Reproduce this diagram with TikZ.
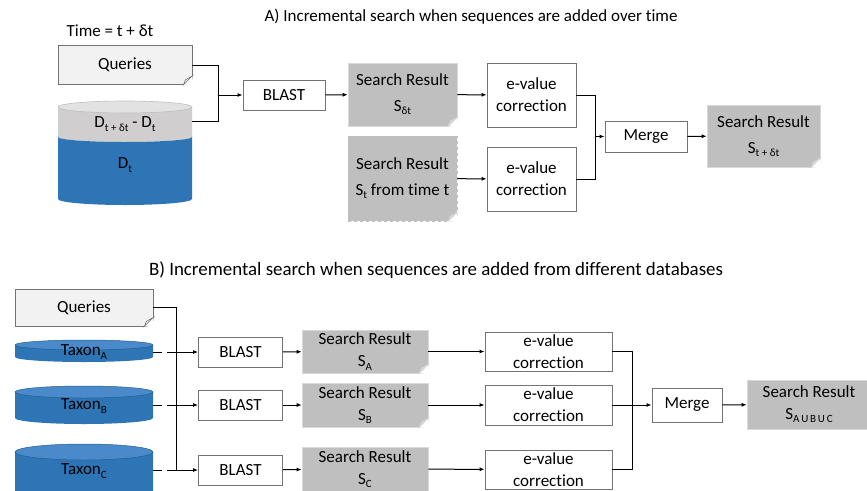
\documentclass[tikz,border=0pt]{standalone}
\usepackage{fontspec}
\setmainfont{Carlito}[Ligatures=NoCommon]
\usetikzlibrary{arrows.meta,positioning}

\definecolor{qfill}{HTML}{F2F2F2}
\definecolor{resfill}{HTML}{BFBFBF}
\definecolor{foldgray}{HTML}{D6D6D6}
\definecolor{dbblue}{HTML}{2E75B6}
\definecolor{dbbluetop}{HTML}{4A8ACB}
\definecolor{dbgray}{HTML}{D0CECE}
\definecolor{dbgraytop}{HTML}{E2E2E2}

\newcommand{\lowsub}[1]{\raisebox{-0.4ex}{\fontsize{11}{11}\selectfont #1}}
% folded corner on a document node
\newcommand{\foldcorner}[3]{%
  \fill[white] ([xshift=-9pt]#1.south east) -- ([yshift=-1pt,xshift=1pt]#1.south east) -- ([yshift=9pt]#1.south east) -- cycle;
  \filldraw[fill=#2,draw=#3,line width=0.6pt] ([xshift=-9pt]#1.south east) -- ([yshift=9pt]#1.south east) -- ([xshift=-7pt,yshift=5pt]#1.south east) -- cycle;}

\begin{document}
\begin{tikzpicture}[x=1pt,y=-1pt,
  font=\fontsize{17}{22}\selectfont,
  box/.style={draw=black!55,fill=white,line width=0.8pt,align=center,inner sep=0pt},
  query/.style={draw=black!55,fill=qfill,line width=0.8pt,inner sep=0pt},
  result/.style={draw=black!15,fill=resfill,line width=0.6pt,align=center,inner sep=0pt},
  wide/.style={font=\fontsize{17}{26}\selectfont},
  link/.style={line width=1pt},
  arr/.style={link,-{Latex[length=5pt,width=4pt]}}]
\useasboundingbox (0,0) rectangle (867,490);
\fill[white] (0,0) rectangle (867,490);
\clip (0,0) rectangle (867,490);

% A) over time
\node (titleA) at (471,17) {A) Incremental search when sequences are added over time};
\node (time) at (110,31) {Time = t + δt};
\node[query,minimum width=134,minimum height=39] (qA) at (125,65) {Queries};
\foldcorner{qA}{qfill}{black!55}

% database D_t plus new part
\fill[dbgray] (58,107) -- (58,137) arc[start angle=180,end angle=360,x radius=67pt,y radius=5pt] -- (192,107) -- cycle;
\fill[dbblue] (58,137) -- (58,199) arc[start angle=180,end angle=360,x radius=67pt,y radius=6pt] -- (192,137) arc[start angle=0,end angle=-180,x radius=67pt,y radius=5pt] -- cycle;
\filldraw[fill=dbgraytop,draw=black!25,line width=0.6pt] (125,107) ellipse [x radius=67pt,y radius=6pt];
\node (dnew) at (125,124) {D\lowsub{t + δt} - D\lowsub{t}};
\node (dold) at (125,165) {D\lowsub{t}};
\coordinate (dbout) at (192,121);

\node[box,minimum width=82,minimum height=30] (blastA) at (284,95) {BLAST};
\node[result,wide,minimum width=109,minimum height=63] (sdt) at (402.5,94.5) {Search Result\\S\lowsub{δt}};
\foldcorner{sdt}{foldgray}{black!15}
\node[result,wide,dashed,draw=black!25,minimum width=109,minimum height=85] (sold) at (402.5,178.5) {Search Result\\S\lowsub{t} from time t};
\foldcorner{sold}{foldgray}{black!15}
\node[box,minimum width=89,minimum height=64] (ev1) at (531.5,95) {e-value\\correction};
\node[box,minimum width=89,minimum height=64] (ev2) at (531.5,179) {e-value\\correction};
\node[box,minimum width=82,minimum height=31] (mergeA) at (646,136.5) {Merge};
\node[result,wide,minimum width=113,minimum height=62] (sfinA) at (763.5,136) {Search Result\\S\lowsub{t + δt}};
\foldcorner{sfinA}{foldgray}{black!15}

\coordinate (jA) at (218,95);
\coordinate (jM) at (595,136.5);
\draw[link] (qA.east) -| (jA);
\draw[link] (dbout) -| (jA);
\draw[arr] (jA) -- (blastA);
\draw[arr] (blastA) -- (sdt);
\draw[arr] (sdt) -- (ev1);
\draw[arr] (sold) -- (ev2);
\draw[link] (ev1.east) -| (jM);
\draw[link] (ev2.east) -| (jM);
\draw[arr] (jM) -- (mergeA);
\draw[arr] (mergeA) -- (sfinA);

% B) from different databases
\node[font=\fontsize{18.9}{22}\selectfont] (titleB) at (436,270) {B) Incremental search when sequences are added from different databases};
\node[query,minimum width=138,minimum height=37] (qB) at (84,307.5) {Queries};
\foldcorner{qB}{qfill}{black!55}

% taxon databases
\fill[dbblue] (15,345) -- (15,357) arc[start angle=180,end angle=360,x radius=69pt,y radius=5pt] -- (153,345) -- cycle;
\filldraw[fill=dbbluetop,draw=dbblue!80!black,line width=0.5pt] (84,345) ellipse [x radius=69pt,y radius=5pt];
\fill[dbblue] (15,392) -- (15,418) arc[start angle=180,end angle=360,x radius=69pt,y radius=6pt] -- (153,392) -- cycle;
\filldraw[fill=dbbluetop,draw=dbblue!80!black,line width=0.5pt] (84,392) ellipse [x radius=69pt,y radius=6pt];
\fill[dbblue] (15,452) -- (15,500) arc[start angle=180,end angle=360,x radius=69pt,y radius=8pt] -- (153,452) -- cycle;
\filldraw[fill=dbbluetop,draw=dbblue!80!black,line width=0.5pt] (84,452) ellipse [x radius=69pt,y radius=8pt];
\node (taxA) at (84,352) {Taxon\lowsub{A}};
\node (taxB) at (84,406) {Taxon\lowsub{B}};
\node (taxC) at (84,471) {Taxon\lowsub{C}};
\coordinate (tA) at (153,352);
\coordinate (tB) at (153,405);
\coordinate (tC) at (153,470);

\node[box,minimum width=84,minimum height=30] (blastB1) at (240.5,352) {BLAST};
\node[box,minimum width=84,minimum height=30] (blastB2) at (240.5,405) {BLAST};
\node[box,minimum width=84,minimum height=30] (blastB3) at (240.5,470) {BLAST};
\node[result,minimum width=126,minimum height=43] (sA) at (365,351.5) {Search Result\\S\lowsub{A}};
\foldcorner{sA}{foldgray}{black!15}
\node[result,minimum width=126,minimum height=44] (sB) at (365,405) {Search Result\\S\lowsub{B}};
\foldcorner{sB}{foldgray}{black!15}
\node[result,minimum width=126,minimum height=44] (sC) at (365,469) {Search Result\\S\lowsub{C}};
\node[box,minimum width=127,minimum height=39] (evA) at (548.5,351.5) {e-value\\correction};
\node[box,minimum width=127,minimum height=40] (evB) at (548.5,405) {e-value\\correction};
\node[box,minimum width=127,minimum height=39] (evC) at (548.5,469.5) {e-value\\correction};
\node[box,minimum width=70,minimum height=34] (mergeB) at (687,405) {Merge};
\node[result,minimum width=124,minimum height=49] (sfinB) at (809,404.5) {Search Result\\S\lowsub{A\,U\,B\,U\,C}};

\coordinate (jB1) at (176,352);
\coordinate (jB2) at (176,405);
\coordinate (jB3) at (176,470);
\coordinate (jMB) at (632,405);
\draw[link] (qB.east) -| (jB3);
\draw[link,dash pattern=on 9pt off 5pt] (tA) -- (jB1);
\draw[link,dash pattern=on 9pt off 5pt] (tB) -- (jB2);
\draw[link,dash pattern=on 9pt off 5pt] (tC) -- (jB3);
\draw[arr] (jB1) -- (blastB1);
\draw[arr] (jB2) -- (blastB2);
\draw[arr] (jB3) -- (blastB3);
\draw[arr] (blastB1) -- (sA);
\draw[arr] (blastB2) -- (sB);
\draw[arr] (blastB3) -- (sC);
\draw[arr] (sA) -- (evA);
\draw[arr] (sB) -- (evB);
\draw[arr] (sC) -- (evC);
\draw[link] (evA.east) -| (jMB);
\draw[link] (evC.east) -| (jMB);
\draw[arr] (evB) -- (mergeB);
\draw[arr] (mergeB) -- (sfinB);
\end{tikzpicture}
\end{document}
